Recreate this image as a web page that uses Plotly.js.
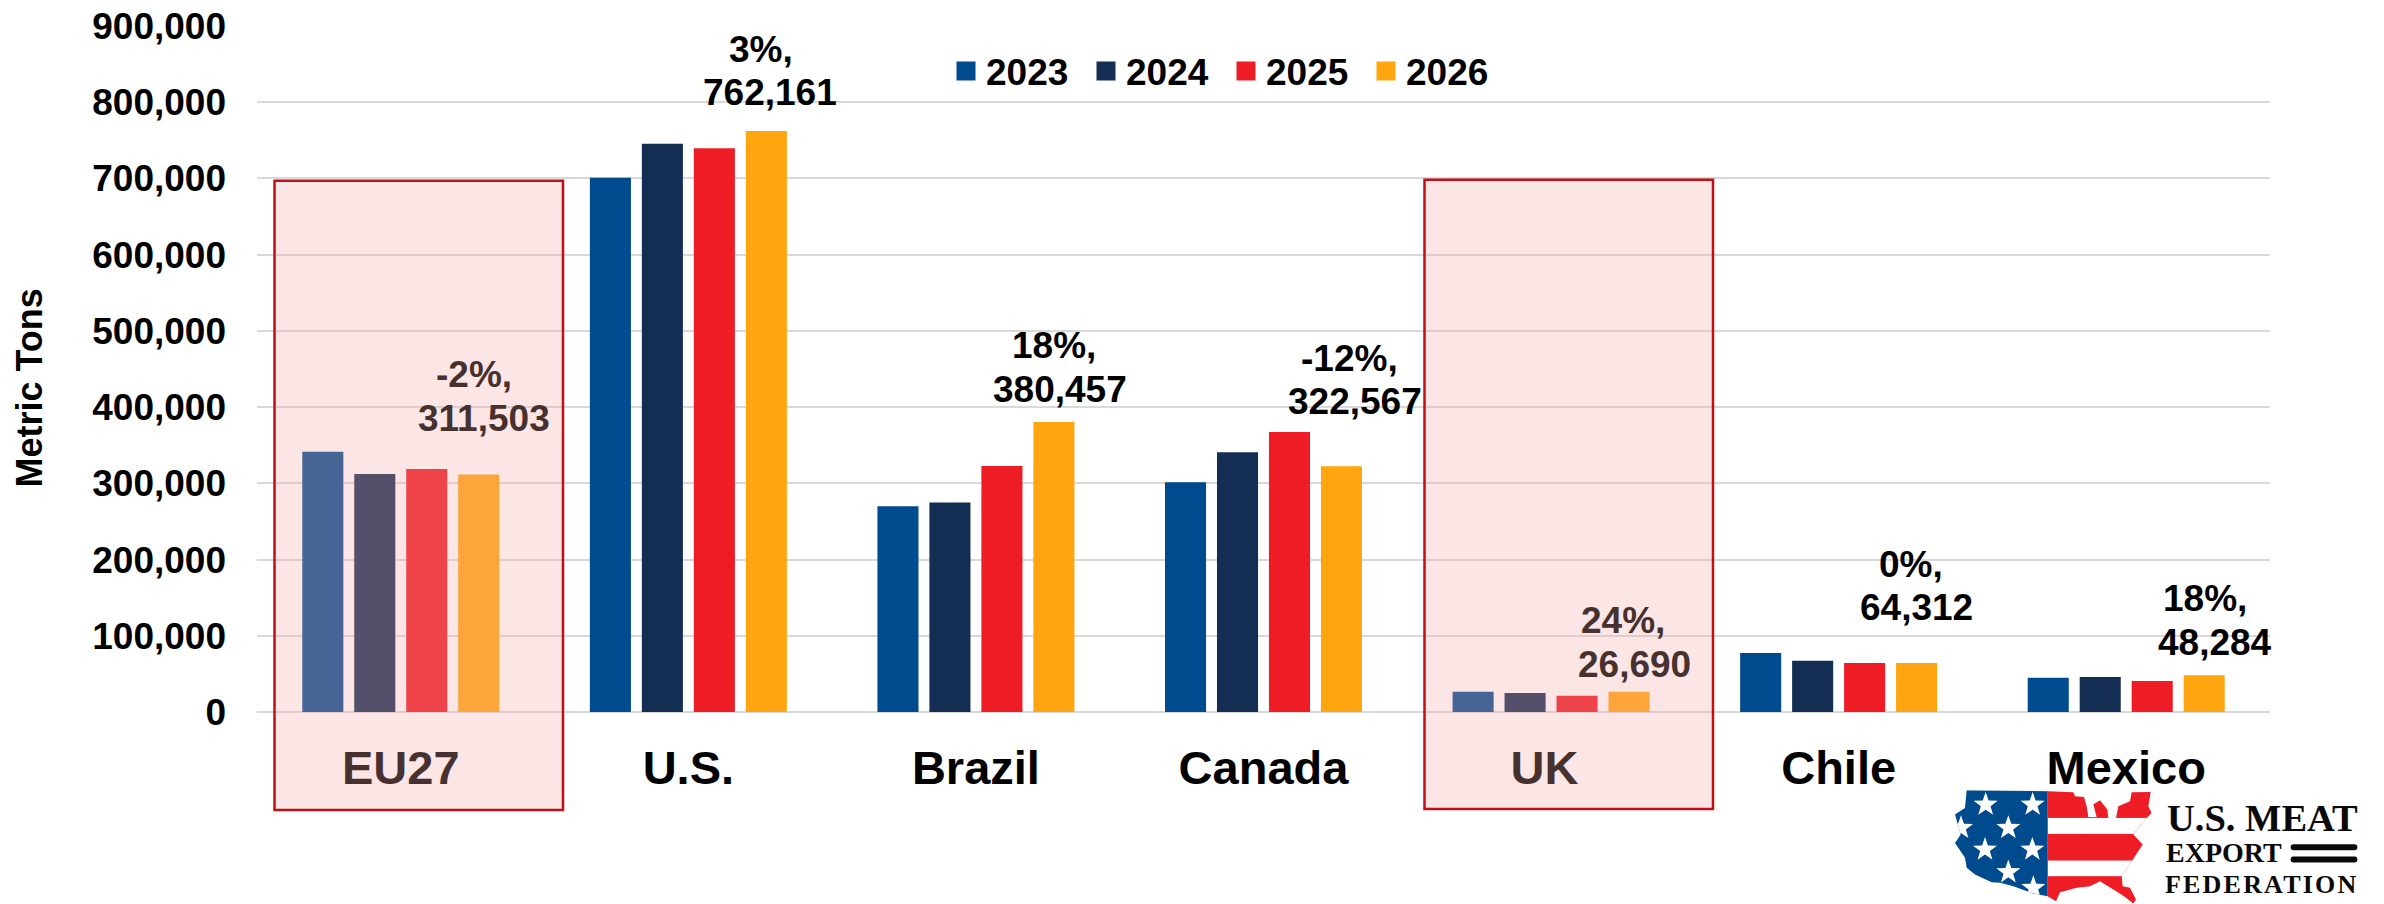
<!DOCTYPE html>
<html><head><meta charset="utf-8">
<script src="https://cdn.plot.ly/plotly-3.0.1.min.js"></script>
<style>
html,body{margin:0;padding:0;background:#fff}
#chart{width:2384px;height:904px}
</style></head><body><div id="chart"></div>
<script>
const categories = ["EU27","U.S.","Brazil","Canada","UK","Chile","Mexico"];
const categoryLabels = ["EU27","U.S.","Brazil","Canada","UK\u00a0","Chile","Mexico"];
const years = ["2023","2024","2025","2026"];
const v2023 = [341500,701000,270000,301400,26600,77300,45000];
const v2024 = [312300,745600,275000,340700,24900,67200,45800];
const v2025 = [318800,739500,322800,367300,21400,64200,40600];
const v2026 = [311503,762161,380457,322567,26690,64312,48284];
const yearColors = ["#004B8D","#142D53","#EE1C25","#FFA50F"];
const changeLabels = ["-2%,","3%,","18%,","-12%,","24%,","0%,","18%,"];
const valueLabels = ["311,503","762,161","380,457","322,567","26,690","64,312","48,284"];
const labelColors = ["#47312F","#000","#000","#000","#47312F","#000","#000"];
// pixel layout of the labels: [line 1 centre x, line 1 centre y, line 2 centre x, line 2 centre y]
const labelPlaces = [[474,374.5,484,418],[761,49,770,92.5],[1054,345,1060,389],[1349,358,1355,401.5],[1623,621,1634,665],[1911,565,1916,608],[2205,599,2215,643]];

const W=2384,H=904,L=257,R=2270,T=25.5,B=712.3;
const xp=px=>(px-L)/(R-L), yp=py=>(B-py)/(B-T);
const FF="Liberation Sans";
const bold=(size,color)=>({family:FF,size:size,color:color||"#000",weight:700});
const series=[v2023,v2024,v2025,v2026];
const traces=years.map((y,i)=>({type:"bar",name:y,x:categories,y:series[i],marker:{color:yearColors[i]},hoverinfo:"x+y+name"}));

const ann=[];
categories.forEach((c,i)=>{
  const p=labelPlaces[i];
  [[changeLabels[i],p[0],p[1]],[valueLabels[i],p[2],p[3]]].forEach(a=>{
    ann.push({xref:"paper",yref:"paper",x:xp(a[1]),y:yp(a[2]),text:a[0],showarrow:false,xanchor:"center",yanchor:"middle",font:bold(37,labelColors[i]),borderpad:0,borderwidth:0});
  });
});
ann.push({xref:"paper",yref:"paper",x:xp(29.5),y:yp(388),text:"Metric Tons",textangle:-90,showarrow:false,xanchor:"center",yanchor:"middle",font:bold(36)});
const serif=(size)=>({family:"Liberation Serif",size:size,color:"#0a0a0a",weight:700});
ann.push({xref:"paper",yref:"paper",x:xp(2165),y:yp(818),text:"U.S. MEAT",showarrow:false,xanchor:"left",yanchor:"middle",font:serif(38.5)});
ann.push({xref:"paper",yref:"paper",x:xp(2164),y:yp(853),text:"EXPORT",showarrow:false,xanchor:"left",yanchor:"middle",font:serif(28)});
ann.push({xref:"paper",yref:"paper",x:xp(2174),y:yp(885),text:"FEDERATION",showarrow:false,xanchor:"left",yanchor:"middle",font:serif(26)});

const box=(x0,x1,y0,y1)=>({type:"rect",layer:"above",xref:"paper",yref:"paper",x0:xp(x0),x1:xp(x1),y0:yp(y1),y1:yp(y0),fillcolor:"rgba(241,165,165,0.29)",line:{color:"#C00F16",width:2.5}});

const star=(cx,cy,r)=>{let s="";for(let k=0;k<10;k++){const a=-Math.PI/2+k*Math.PI/5,q=k%2?r*0.4:r;s+=(k?"L":"M")+(cx+q*Math.cos(a)).toFixed(1)+","+(cy+q*Math.sin(a)).toFixed(1);}return s+"Z";};
const outline="M200,272L443,275L520,278L525,290L552,292L560,320L565,352L590,352L580,315L600,302L622,330L625,355L648,355L655,320L690,305L695,278L752,277L745,320L755,340L725,370L700,405L728,435L705,470L665,530L668,560L690,565L708,600L700,612L672,590L640,570L600,545L570,560L530,565L480,578L468,605L443,590L400,582L340,560L300,550L275,548L225,525L200,505L195,475L165,430L182,405L165,345L195,325Z";
const stars=[[257,315],[398,315],[325,385],[183,385],[255,450],[397,450],[325,518],[400,565]].map(s=>star(s[0],s[1],38)).join("");
const svg=`<svg xmlns="http://www.w3.org/2000/svg" width="1452" height="612" viewBox="0 0 1452 612"><defs><clipPath id="m"><path d="${outline}"/></clipPath></defs><g clip-path="url(#m)"><rect x="443" y="260" width="330" height="360" fill="#EE1C25"/><rect x="443" y="355" width="330" height="48" fill="#fff"/><rect x="443" y="483" width="330" height="47" fill="#fff"/><rect x="150" y="260" width="293" height="360" fill="#004B8D"/><path d="${stars}" fill="#fff"/></g><rect x="1172" y="434" width="200" height="18" rx="8" fill="#0a0a0a"/><rect x="1172" y="471" width="200" height="18" rx="8" fill="#0a0a0a"/></svg>`;

const layout={
  width:W,height:H,autosize:false,paper_bgcolor:"#fff",plot_bgcolor:"#fff",
  margin:{l:L,r:W-R,t:T,b:H-B,pad:0},
  barmode:"group",bargap:0.277,bargroupgap:0.21,
  xaxis:{type:"category",categoryorder:"array",categoryarray:categories,tickmode:"array",tickvals:categories,ticktext:categoryLabels,tickfont:bold(47),ticks:"",showgrid:false,showline:false,zeroline:false,ticklabelstandoff:24,automargin:false},
  yaxis:{range:[0,900000],dtick:100000,tickformat:",",tickfont:bold(37),ticks:"",showline:false,showgrid:true,gridcolor:"#D9D9D9",gridwidth:2,zeroline:true,zerolinecolor:"#D9D9D9",zerolinewidth:2,ticklabelstandoff:30,automargin:false},
  showlegend:true,
  legend:{orientation:"h",x:xp(946),xanchor:"left",y:yp(71),yanchor:"middle",font:bold(37),entrywidth:95,entrywidthmode:"pixels",bgcolor:"rgba(0,0,0,0)",traceorder:"normal"},
  shapes:[box(274.5,563,180.5,810.5),box(1424.5,1713,179.5,809.5)],
  annotations:ann,
  images:[{source:"data:image/svg+xml;charset=utf-8,"+encodeURIComponent(svg),xref:"paper",yref:"paper",x:xp(1900),y:yp(700),sizex:484/(R-L),sizey:204/(B-T),xanchor:"left",yanchor:"top",sizing:"stretch",layer:"above"}]
};
Plotly.newPlot("chart",traces,layout,{displayModeBar:false,responsive:false}).then(gd=>{
  gd.querySelectorAll(".legend .legendpoints path").forEach(p=>p.setAttribute("d","M9.5,9.5H-9.5V-9.5H9.5Z"));
  gd.querySelectorAll(".annotation").forEach(a=>{const t=a.querySelector("text");if(t&&t.textContent==="FEDERATION"){t.style.letterSpacing="2.2px";}});
});
</script></body></html>
